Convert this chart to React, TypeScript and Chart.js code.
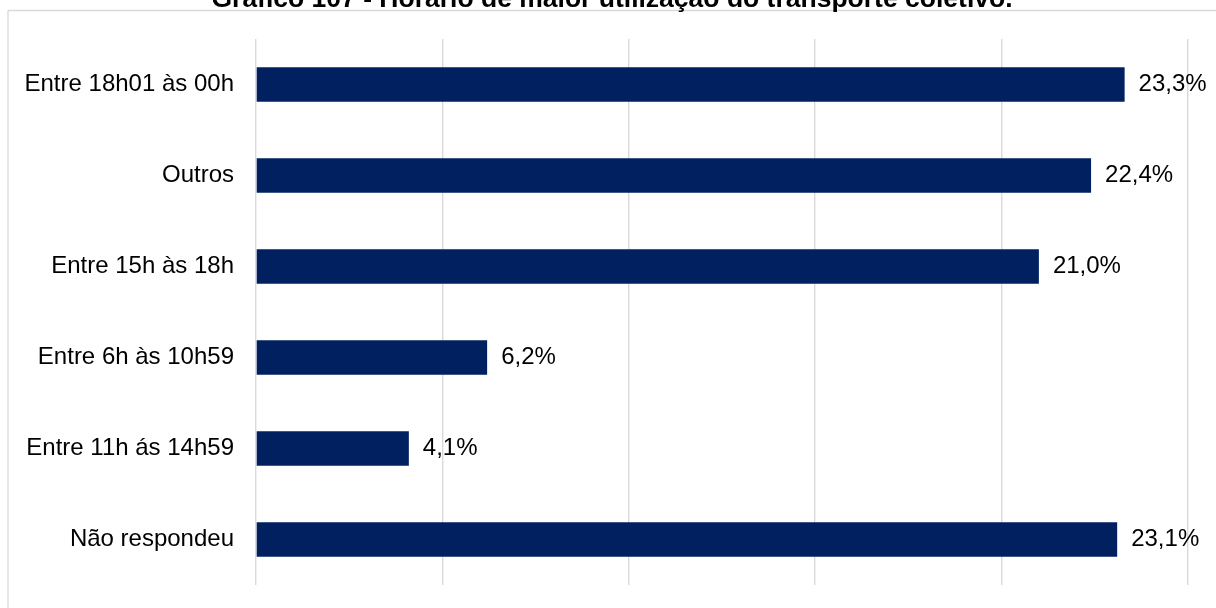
import React, { useEffect, useRef } from "react";
import { Chart, registerables } from "chart.js";

Chart.register(...registerables);

const TITLE = "Gráfico 107 - Horário de maior utilização do transporte coletivo.";
const categories = [
  "Entre 18h01 às 00h",
  "Outros",
  "Entre 15h às 18h",
  "Entre 6h às 10h59",
  "Entre 11h ás 14h59",
  "Não respondeu",
];
const values = [23.3, 22.4, 21.0, 6.2, 4.1, 23.1];
const xMax = 25;
const xStep = 5;

const FONT = "'Liberation Sans', Arial, sans-serif";
const CANVAS_W = 1216;
const CANVAS_H = 608;

const frameBorder = {
  id: "frameBorder",
  beforeDraw(chart: any) {
    const ctx = chart.ctx;
    ctx.save();
    ctx.strokeStyle = "#d9d9d9";
    ctx.lineWidth = 1.3;
    ctx.beginPath();
    ctx.moveTo(8, 10.5);
    ctx.lineTo(CANVAS_W, 10.5);
    ctx.moveTo(8, 10.5);
    ctx.lineTo(8, CANVAS_H);
    ctx.stroke();
    ctx.restore();
  },
};

const valueLabels = {
  id: "valueLabels",
  afterDatasetsDraw(chart: any) {
    const ctx = chart.ctx;
    const meta = chart.getDatasetMeta(0);
    const data = chart.data.datasets[0].data as number[];
    ctx.save();
    ctx.font = `24px ${FONT}`;
    ctx.fillStyle = "#000000";
    ctx.textAlign = "left";
    ctx.textBaseline = "middle";
    meta.data.forEach((bar: any, i: number) => {
      const txt = data[i].toFixed(1).replace(".", ",") + "%";
      ctx.fillText(txt, bar.x + 14, bar.y);
    });
    ctx.restore();
  },
};

export default function App() {
  const ref = useRef<HTMLCanvasElement | null>(null);

  useEffect(() => {
    if (!ref.current) return;
    document.body.style.overflow = "hidden";
    const chart = new Chart(ref.current, {
      type: "bar",
      data: {
        labels: categories,
        datasets: [
          {
            data: values,
            backgroundColor: "#002060",
            borderWidth: 0,
            barPercentage: 0.38,
            categoryPercentage: 1,
          },
        ],
      },
      options: {
        indexAxis: "y",
        responsive: false,
        animation: false,
        layout: { padding: { left: 8, right: 28, top: 39, bottom: CANVAS_H - 585 } },
        plugins: {
          legend: { display: false },
          tooltip: { enabled: false },
          title: { display: false },
        },
        scales: {
          x: {
            min: 0,
            max: xMax,
            ticks: { display: false, stepSize: xStep },
            grid: { color: "#d9d9d9", lineWidth: 1.4, drawTicks: false },
            border: { display: false },
            afterFit: (s: any) => {
              s.height = 0;
              s.paddingLeft = 0;
              s.paddingRight = 0;
            },
          },
          y: {
            grid: { display: false, drawTicks: false },
            border: { display: false },
            ticks: {
              color: "#000000",
              font: { family: FONT, size: 24 },
              padding: 22,
            },
            afterFit: (s: any) => {
              s.width = 248;
              s.paddingTop = 0;
              s.paddingBottom = 0;
            },
          },
        },
      },
      plugins: [frameBorder, valueLabels],
    });
    return () => chart.destroy();
  }, []);

  return (
    <div
      style={{
        position: "absolute",
        left: 0,
        top: 0,
        width: CANVAS_W,
        height: CANVAS_H,
        background: "#ffffff",
        overflow: "hidden",
      }}
    >
      <canvas ref={ref} width={CANVAS_W} height={CANVAS_H} style={{ display: "block" }} />
      <div
        style={{
          position: "absolute",
          left: 112,
          width: 1000,
          top: -17,
          textAlign: "center",
          whiteSpace: "nowrap",
          fontFamily: FONT,
          fontWeight: "bold",
          fontSize: "26.5px",
          lineHeight: "30px",
          color: "#000000",
        }}
      >
        {TITLE}
      </div>
    </div>
  );
}
